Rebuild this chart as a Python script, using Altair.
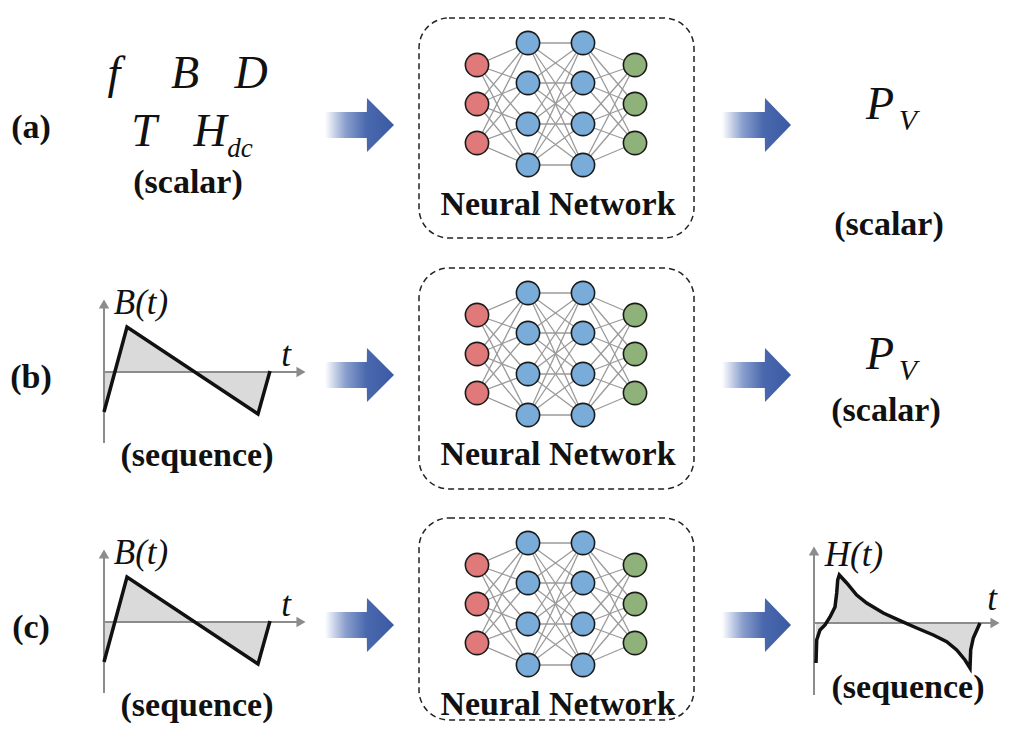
import altair as alt
import pandas as pd

# ---------------- data ----------------
ROW_SHIFT = [0, 250, 500]
ROW_LABELS = ["(a)", "(b)", "(c)"]
ROW_LABEL_X = [31, 31, 31]
ROW_LABEL_Y = [138, 388, 638]

# neural network: layer x positions, node y positions (row a), node colours
LAYER_X = [477, 528, 583, 635]
LAYER_NODE_Y = [[65, 104, 143], [43, 83, 124, 165], [43, 83, 124, 165], [65, 104, 143]]
LAYER_FILL = ["#e07a7a", "#79acd8", "#79acd8", "#8fb27a"]

BOX_X = [419, 694]
BOX_TOP = [18, 268, 518]
BOX_BOTTOM = [238, 489, 720]
NN_LABEL_X = [558, 558, 558]
NN_LABEL_Y = [215, 465, 715]

# block arrows: outline x points and half heights
ARROW_LEFT_X = [325, 366.8, 367, 394]
ARROW_RIGHT_X = [722, 764.8, 765, 791]
ARROW_HALF = [13, 13, 27, 0]
ARROW_CENTER_Y = [125, 375, 625]

# B(t) sawtooth (row b), shifted for row c
BT_X = [104, 127, 258, 270]
BT_Y = [412, 327, 414, 371]
BT_AXIS_Y = 372

# H(t) curve (row c output)
HT_X = [816, 816.7, 820, 825, 830, 835, 836.7, 837.7, 839.3, 846.7, 856.7, 866.7,
        883.3, 900, 916.7, 933.3, 946.7, 956.7, 965, 970, 970.7, 973.3, 980]
HT_Y = [663, 640, 630, 625, 617, 607, 593, 580, 575, 583, 595, 603,
        613, 620.7, 628, 635, 641.7, 650, 660, 668, 650, 638, 623]
HT_AXIS_Y = 623

# text
BOLD_TEXT = ["(scalar)", "(scalar)", "(scalar)", "(sequence)", "(sequence)", "(sequence)"]
BOLD_X = [188, 889, 886, 197, 197, 908]
BOLD_Y = [193, 235, 421, 466, 716, 698]

MATH_TEXT = ["f", "B", "D", "T", "H", "dc", "P", "V", "P", "V",
             "B(t)", "t", "B(t)", "t", "H(t)", "t"]
MATH_X = [114, 185, 251, 144, 210, 240, 880, 908, 880, 908,
          141, 286, 141, 286, 854, 992]
MATH_Y = [88, 88, 88, 146, 146, 157, 119, 130, 369, 380,
          314, 366, 564, 616, 566, 610]
MATH_SIZE = [46, 46, 46, 46, 46, 27, 46, 30, 46, 30,
             35, 35, 35, 35, 35, 35]

SERIF = "Liberation Serif, Times New Roman, Times, DejaVu Serif, serif"

# ---------------- build tables ----------------
xs = alt.Scale(domain=[8, 1001], nice=False, zero=False)
ys = alt.Scale(domain=[8, 731], nice=False, zero=False, reverse=True)


def X(f):
    return alt.X(f, type="quantitative", scale=xs, axis=None)


def Y(f):
    return alt.Y(f, type="quantitative", scale=ys, axis=None)


boxes = pd.DataFrame({"x": [BOX_X[0]] * 3, "x2": [BOX_X[1]] * 3, "y": BOX_TOP, "y2": BOX_BOTTOM})

edges, nodes = [], []
for s in ROW_SHIFT:
    for L in range(3):
        for ya in LAYER_NODE_Y[L]:
            for yb in LAYER_NODE_Y[L + 1]:
                edges.append({"x": LAYER_X[L], "y": ya + s, "x2": LAYER_X[L + 1], "y2": yb + s})
    for L in range(4):
        for ya in LAYER_NODE_Y[L]:
            nodes.append({"x": LAYER_X[L], "y": ya + s, "c": LAYER_FILL[L]})
edges = pd.DataFrame(edges)
nodes = pd.DataFrame(nodes)

arrows = []
for r, cy in enumerate(ARROW_CENTER_Y):
    for side, ax in (("L", ARROW_LEFT_X), ("R", ARROW_RIGHT_X)):
        for i, (px, h) in enumerate(zip(ax, ARROW_HALF)):
            arrows.append({"aid": f"a{r}{side}", "x": px, "y": cy - h, "y2": cy + h})
arrows = pd.DataFrame(arrows)

curves = []
for cid, shift in (("b", 0), ("c", 250)):
    for i, (px, py) in enumerate(zip(BT_X, BT_Y)):
        curves.append({"cid": cid, "ord": i, "x": px, "y": py + shift, "base": BT_AXIS_Y + shift})
for i, (px, py) in enumerate(zip(HT_X, HT_Y)):
    curves.append({"cid": "h", "ord": i, "x": px, "y": py, "base": HT_AXIS_Y})
curves = pd.DataFrame(curves)

axes_lines = pd.DataFrame({
    "x": [104, 104, 104, 104, 814, 814],
    "y": [443, 372, 693, 622, 695, 623],
    "x2": [104, 302, 104, 302, 814, 996],
    "y2": [303, 372, 553, 622, 550, 623],
})
axes_tips = pd.DataFrame({
    "x": [104, 301, 104, 301, 814, 995],
    "y": [304, 372, 554, 622, 551, 623],
    "shape": ["triangle-up", "triangle-right", "triangle-up", "triangle-right",
              "triangle-up", "triangle-right"],
})

bold = pd.DataFrame({"x": BOLD_X + ROW_LABEL_X + NN_LABEL_X,
                     "y": BOLD_Y + ROW_LABEL_Y + NN_LABEL_Y,
                     "t": BOLD_TEXT + ROW_LABELS + ["Neural Network"] * 3,
                     "s": [34] * 6 + [34] * 3 + [34] * 3})
math = pd.DataFrame({"x": MATH_X, "y": MATH_Y, "t": MATH_TEXT, "s": MATH_SIZE})

# ---------------- layers ----------------
grad = alt.LinearGradient(
    gradient="linear",
    stops=[alt.GradientStop(color="#ffffff", offset=0),
           alt.GradientStop(color="#dfe5f2", offset=0.08),
           alt.GradientStop(color="#8a9fcd", offset=0.3),
           alt.GradientStop(color="#4a68ad", offset=0.6),
           alt.GradientStop(color="#3a5aa4", offset=1)],
    x1=0, x2=1, y1=0, y2=0)

box_layer = alt.Chart(boxes).mark_rect(
    cornerRadius=30, fill="white", fillOpacity=0, stroke="#222222",
    strokeWidth=1.5, strokeDash=[6, 4]
).encode(x=X("x"), x2="x2", y=Y("y"), y2="y2")

edge_layer = alt.Chart(edges).mark_rule(color="#9a9a9a", strokeWidth=1.3).encode(
    x=X("x"), y=Y("y"), x2="x2", y2="y2")

node_layer = alt.Chart(nodes).mark_circle(
    size=540, opacity=1, stroke="#1a1a1a", strokeWidth=1.6
).encode(x=X("x"), y=Y("y"), color=alt.Color("c:N", scale=None))

arrow_layer = alt.Chart(arrows).mark_area(fill=grad, opacity=1).encode(
    x=X("x"), y=Y("y"), y2="y2", detail="aid:N")

fill_layer = alt.Chart(curves).mark_area(color="#dadada", opacity=1).encode(
    x=X("x"), y=Y("y"), y2="base", detail="cid:N")

axis_layer = alt.Chart(axes_lines).mark_rule(color="#8c8c8c", strokeWidth=2).encode(
    x=X("x"), y=Y("y"), x2="x2", y2="y2")

tip_layer = alt.Chart(axes_tips).mark_point(
    filled=True, color="#8c8c8c", opacity=1, size=110
).encode(x=X("x"), y=Y("y"), shape=alt.Shape("shape:N", scale=None))

curve_layer = alt.Chart(curves).mark_line(
    color="#111111", strokeWidth=3.5, strokeJoin="miter"
).encode(x=X("x"), y=Y("y"), detail="cid:N", order="ord:Q")

bold_layer = alt.Chart(bold).mark_text(
    font=SERIF, fontWeight="bold", align="center",
    baseline="alphabetic", color="#111111"
).encode(x=X("x"), y=Y("y"), text="t:N", size=alt.Size("s:Q", scale=None))

math_layer = alt.Chart(math).mark_text(
    font=SERIF, fontStyle="italic", align="center",
    baseline="alphabetic", color="#111111"
).encode(x=X("x"), y=Y("y"), text="t:N", size=alt.Size("s:Q", scale=None))

chart = alt.layer(
    box_layer, edge_layer, node_layer, arrow_layer, fill_layer, axis_layer,
    tip_layer, curve_layer, bold_layer, math_layer
).properties(width=993, height=723, padding=0, background="white").configure_view(strokeWidth=0)

chart.save("out.html", embed_options={"renderer": "svg", "actions": False})
